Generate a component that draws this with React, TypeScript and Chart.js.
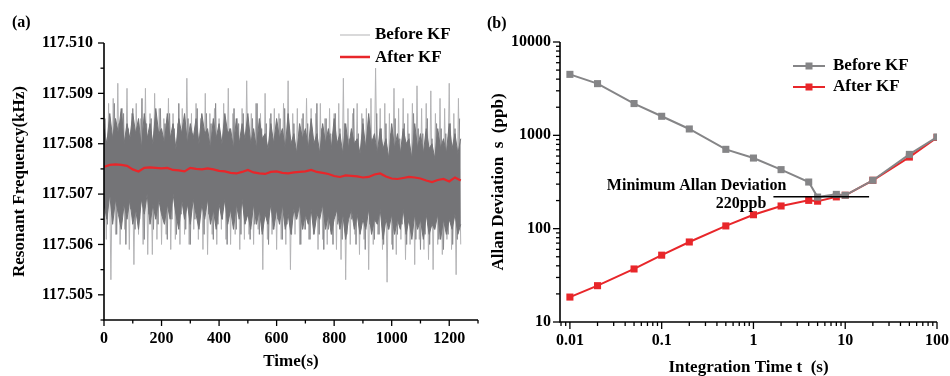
import React, { useEffect, useRef } from "react";
import { Chart, registerables } from "chart.js";

Chart.register(...registerables);

const FONT = "'Liberation Serif', 'Times New Roman', Times, serif";

// ---------- Panel (a): resonant frequency vs time ----------
const BASE_KHZ = 117.5; // values below are offsets in Hz above 117.5 kHz
const SPIKE_STEP_S = 8;
const HAIR_START_S = 4;
const HAIR_STEP_S = 8;
const CORE_STEP_S = 10;
const KF_STEP_S = 20;

// light-gray raw extremes (Before KF), one sample every 8 s
const beforeSpikesHz = [
  8.4, 6.1, 8.8, 5.3, 8.9, 6.2, 9.2, 6.0, 8.7, 6.3, 9.1, 5.9, 8.6, 5.6, 8.8, 6.2, 8.5, 6.0, 9.1, 5.8,
  8.6, 5.8, 9.0, 6.1, 8.7, 6.0, 8.5, 6.2, 8.9, 5.9, 8.6, 6.1, 8.4, 6.0, 8.7, 6.2, 9.3, 6.0, 8.6, 6.3,
  8.8, 6.1, 8.5, 5.9, 9.0, 5.8, 8.6, 6.2, 8.7, 6.0, 8.5, 6.3, 8.8, 6.1, 9.1, 6.0, 8.6, 6.2, 8.5, 5.9,
  8.7, 6.1, 9.25, 6.2, 8.6, 6.0, 8.8, 6.3, 8.6, 5.5, 9.0, 6.1, 8.5, 6.2, 8.7, 5.9, 8.6, 6.1, 8.8, 6.0,
  9.25, 5.5, 8.6, 6.2, 8.7, 6.0, 8.5, 6.3, 8.9, 6.1, 8.7, 6.2, 8.6, 5.9, 8.8, 6.1, 8.5, 6.0, 8.7, 6.2,
  8.6, 5.9, 8.8, 5.7, 9.3, 5.3, 8.7, 6.0, 8.6, 6.2, 8.8, 5.8, 8.6, 6.1, 8.7, 5.5, 8.9, 6.0, 9.5, 6.2,
  8.7, 5.9, 8.8, 5.25, 8.6, 6.0, 9.1, 5.8, 8.7, 6.1, 8.9, 5.7, 8.6, 6.0, 8.8, 5.6, 9.15, 6.1, 8.7, 5.9,
  8.8, 5.7, 9.05, 5.5, 8.6, 6.0, 8.9, 5.8, 8.7, 6.1, 9.2, 5.9, 8.6, 5.4, 8.9, 6.0,
];

// mid-gray hair lines around the dense band (Before KF), every 8 s starting at 4 s
const beforeHairHz = [
  8.5, 6.4, 8.3, 6.6, 8.8, 6.2, 8.4, 6.5, 8.6, 6.0,
  8.3, 6.7, 8.7, 6.3, 8.2, 6.5, 8.9, 6.1, 8.4, 6.6,
  8.5, 6.3, 8.2, 6.4, 8.7, 6.6, 8.4, 6.1, 8.6, 6.5,
  8.3, 6.2, 8.8, 6.6, 8.4, 6.3, 8.5, 6.0, 8.2, 6.5,
  8.7, 6.4, 8.3, 6.2, 8.6, 6.6, 8.4, 6.1, 8.8, 6.4,
  8.2, 6.5, 8.5, 6.0, 8.3, 6.6, 8.7, 6.3, 8.4, 6.2,
  8.6, 6.5, 8.2, 6.1, 8.5, 6.4, 8.8, 6.2, 8.3, 6.6,
  8.4, 6.0, 8.6, 6.3, 8.2, 6.5, 8.5, 6.1, 8.7, 6.4,
  8.3, 6.2, 8.4, 6.5, 8.1, 6.0, 8.6, 6.3, 8.4, 6.1,
  8.2, 6.4, 8.8, 6.2, 8.3, 5.9, 8.5, 6.3, 8.2, 6.0,
  8.6, 6.4, 8.3, 6.1, 8.4, 6.2, 8.1, 6.5, 8.7, 6.0,
  8.2, 6.3, 8.5, 5.9, 8.3, 6.4, 8.1, 6.1, 8.6, 6.2,
  8.3, 6.0, 8.4, 6.3, 8.2, 5.9, 8.5, 6.2, 8.1, 6.4,
  8.4, 6.0, 8.2, 6.3, 8.6, 6.1, 8.3, 5.9, 8.2, 6.2,
  8.5, 6.0, 8.1, 6.3, 8.4, 6.1, 8.3, 5.9, 8.2, 6.2,
  8.4, 6.0, 8.3, 6.1, 8.5,
];

// dark-gray dense band (Before KF), upper and lower edges every 10 s
const beforeCoreUpperHz = [
  8.3, 8.0, 8.6, 8.1, 8.5, 8.2, 8.7, 8.0, 8.4, 8.1, 8.6,
  8.2, 8.5, 7.9, 8.6, 8.1, 8.4, 8.0, 8.7, 8.2, 8.3,
  8.0, 8.6, 8.1, 8.4, 7.9, 8.5, 8.2, 8.6, 8.0, 8.4,
  8.1, 8.5, 8.0, 8.6, 8.2, 8.3, 7.9, 8.5, 8.1, 8.4,
  8.0, 8.6, 8.2, 8.3, 7.9, 8.5, 8.0, 8.4, 8.1, 8.6,
  8.0, 8.3, 7.9, 8.5, 8.1, 8.2, 7.9, 8.4, 8.0, 8.5,
  8.1, 8.3, 7.9, 8.6, 8.0, 8.2, 7.8, 8.4, 8.1, 8.3,
  7.9, 8.5, 8.0, 8.2, 7.8, 8.4, 8.0, 8.3, 7.9, 8.5,
  8.0, 8.2, 7.8, 8.4, 7.9, 8.3, 8.0, 8.1, 7.8, 8.4,
  7.9, 8.6, 8.0, 8.2, 7.8, 8.3, 7.9, 8.1, 7.7, 8.4,
  7.9, 8.2, 7.8, 8.3, 8.0, 8.1, 7.7, 8.4, 7.9, 8.2,
  7.8, 8.3, 7.9, 8.0, 7.7, 8.3, 7.9, 8.1, 7.8, 8.4,
  7.9, 8.2, 7.8, 8.1,
];
const beforeCoreLowerHz = [
  6.8, 6.5, 7.0, 6.4, 6.9, 6.6, 6.3, 6.8, 6.5, 6.9, 6.4,
  6.7, 6.3, 6.9, 6.6, 7.0, 6.4, 6.8, 6.5, 6.9, 6.6,
  6.4, 6.8, 6.5, 7.0, 6.6, 6.3, 6.9, 6.5, 6.8, 6.4,
  6.9, 6.6, 6.3, 6.8, 6.5, 6.9, 6.4, 6.7, 6.3, 6.8,
  6.5, 6.9, 6.4, 6.7, 6.3, 6.8, 6.5, 6.9, 6.4, 6.6,
  6.3, 6.8, 6.4, 6.7, 6.2, 6.6, 6.4, 6.8, 6.3, 6.7,
  6.4, 6.8, 6.3, 6.6, 6.2, 6.7, 6.5, 6.8, 6.3, 6.6,
  6.4, 6.7, 6.2, 6.6, 6.5, 6.8, 6.3, 6.6, 6.2, 6.5,
  6.7, 6.3, 6.6, 6.1, 6.5, 6.7, 6.3, 6.6, 6.2, 6.5,
  6.3, 6.7, 6.2, 6.5, 6.4, 6.7, 6.1, 6.5, 6.3, 6.6,
  6.2, 6.5, 6.3, 6.7, 6.2, 6.5, 6.1, 6.6, 6.3, 6.5,
  6.1, 6.6, 6.2, 6.4, 6.3, 6.6, 6.1, 6.5, 6.2, 6.5,
  6.3, 6.6, 6.2, 6.4,
];

// After KF, every 20 s
const afterKfHz = [
  7.54, 7.58, 7.59, 7.58, 7.56, 7.49, 7.45, 7.52, 7.53, 7.52,
  7.51, 7.52, 7.48, 7.47, 7.45, 7.52, 7.50, 7.49, 7.51, 7.49,
  7.46, 7.45, 7.42, 7.41, 7.44, 7.48, 7.43, 7.41, 7.40, 7.44,
  7.45, 7.42, 7.41, 7.43, 7.44, 7.45, 7.48, 7.44, 7.42, 7.40,
  7.36, 7.34, 7.37, 7.36, 7.35, 7.33, 7.34, 7.39, 7.41, 7.35,
  7.31, 7.30, 7.32, 7.34, 7.33, 7.31, 7.27, 7.24, 7.28, 7.30,
  7.25, 7.33, 7.27,
];

const timeTicks = [0, 200, 400, 600, 800, 1000, 1200];
const freqTicks = [117.505, 117.506, 117.507, 117.508, 117.509, 117.51];

// ---------- Panel (b): Allan deviation ----------
const tau = [0.01, 0.02, 0.05, 0.1, 0.2, 0.5, 1, 2, 4, 5, 8, 10, 20, 50, 100];
const allanBefore = [4500, 3580, 2190, 1600, 1170, 708, 571, 429, 316, 218, 233, 228, 330, 625, 959];
const allanAfter = [18.5, 24.5, 37, 52, 72, 107, 141, 175, 201, 197, 219, 228, 330, 585, 950];
const tauTicks = [0.01, 0.1, 1, 10, 100];
const allanTicks = [10, 100, 1000, 10000];
const minDevTau = [1.65, 18.2];
const minDevValue = 220;

const GRAY_LIGHT = "#b3b3b5";
const GRAY_HAIR = "#8a8a8d";
const GRAY_DARK = "#747477";
const RED = "#e8262a";
const GRAY_B = "#858587";

function line(ctx: CanvasRenderingContext2D, x1: number, y1: number, x2: number, y2: number) {
  ctx.beginPath();
  ctx.moveTo(x1, y1);
  ctx.lineTo(x2, y2);
  ctx.stroke();
}

function drawAxesFrame(ctx: CanvasRenderingContext2D, ca: any) {
  ctx.strokeStyle = "#000";
  ctx.lineWidth = 1.6;
  ctx.beginPath();
  ctx.moveTo(ca.left, ca.top);
  ctx.lineTo(ca.left, ca.bottom);
  ctx.lineTo(ca.right, ca.bottom);
  ctx.stroke();
}

const leftDecor = {
  id: "leftDecor",
  afterDraw(chart: any) {
    const ctx: CanvasRenderingContext2D = chart.ctx;
    const ca = chart.chartArea;
    const xs = chart.scales.x;
    const ys = chart.scales.y;
    ctx.save();
    drawAxesFrame(ctx, ca);
    ctx.lineWidth = 1.3;
    for (let v = 0; v <= 1300; v += 100) {
      const px = xs.getPixelForValue(v);
      line(ctx, px, ca.bottom, px, ca.bottom + (v % 200 === 0 ? 6 : 3.5));
    }
    for (let k = 0; k <= 11; k++) {
      const v = 117.5045 + k * 0.0005;
      const py = ys.getPixelForValue(v);
      line(ctx, ca.left, py, ca.left - (k % 2 === 1 ? 6 : 3.5), py);
    }
    ctx.fillStyle = "#000";
    ctx.font = `bold 17px ${FONT}`;
    ctx.textAlign = "center";
    ctx.textBaseline = "middle";
    ctx.fillText("Time(s)", (ca.left + ca.right) / 2, 362);
    ctx.save();
    ctx.translate(20, (ca.top + ca.bottom) / 2);
    ctx.rotate(-Math.PI / 2);
    ctx.fillText("Resonant Frequency(kHz)", 0, 0);
    ctx.restore();
    ctx.font = `bold 16px ${FONT}`;
    ctx.textAlign = "left";
    ctx.fillText("(a)", 12, 23);
    // legend
    ctx.font = `bold 17px ${FONT}`;
    ctx.strokeStyle = GRAY_LIGHT;
    ctx.lineWidth = 1;
    line(ctx, 340, 35, 370, 35);
    ctx.fillText("Before KF", 375, 35);
    ctx.strokeStyle = RED;
    ctx.lineWidth = 2.5;
    line(ctx, 340, 57, 370, 57);
    ctx.fillText("After KF", 375, 57.5);
    ctx.restore();
  },
};

const rightDecor = {
  id: "rightDecor",
  afterDraw(chart: any) {
    const ctx: CanvasRenderingContext2D = chart.ctx;
    const ca = chart.chartArea;
    const xs = chart.scales.x;
    const ys = chart.scales.y;
    ctx.save();
    drawAxesFrame(ctx, ca);
    ctx.lineWidth = 1.3;
    for (let d = -3; d <= 2; d++) {
      for (let m = 1; m <= 9; m++) {
        const v = m * Math.pow(10, d);
        if (v < xs.min - 1e-9 || v > xs.max * 1.0001) continue;
        const px = xs.getPixelForValue(v);
        line(ctx, px, ca.bottom, px, ca.bottom + (m === 1 ? 7 : 4));
      }
    }
    for (let d = 1; d <= 4; d++) {
      for (let m = 1; m <= 9; m++) {
        const v = m * Math.pow(10, d);
        if (v > ys.max * 1.0001) continue;
        const py = ys.getPixelForValue(v);
        line(ctx, ca.left, py, ca.left - (m === 1 ? 7 : 4), py);
      }
    }
    // minimum deviation annotation
    const lx1 = xs.getPixelForValue(minDevTau[0]);
    const lx2 = xs.getPixelForValue(minDevTau[1]);
    const ly = ys.getPixelForValue(minDevValue);
    ctx.strokeStyle = "#000";
    ctx.lineWidth = 1.5;
    line(ctx, lx1, ly, lx2, ly);
    ctx.fillStyle = "#000";
    ctx.font = `bold 16px ${FONT}`;
    ctx.textAlign = "right";
    ctx.textBaseline = "alphabetic";
    ctx.fillText("Minimum Allan Deviation", lx1 + 13, ly - 7);
    ctx.fillText("220ppb", lx1 - 7, ly + 11);
    // titles
    ctx.font = `bold 17px ${FONT}`;
    ctx.textAlign = "center";
    ctx.textBaseline = "middle";
    ctx.fillText("Integration Time t  (s)", (ca.left + ca.right) / 2, 368);
    ctx.save();
    ctx.translate(19, (ca.top + ca.bottom) / 2);
    ctx.rotate(-Math.PI / 2);
    ctx.fillText("Allan Deviation  s  (ppb)", 0, 0);
    ctx.restore();
    ctx.font = `bold 16px ${FONT}`;
    ctx.textAlign = "left";
    ctx.fillText("(b)", 7, 24);
    // legend
    ctx.font = `bold 17px ${FONT}`;
    const items = [
      { label: "Before KF", color: GRAY_B, y: 66 },
      { label: "After KF", color: RED, y: 87 },
    ];
    for (const it of items) {
      ctx.strokeStyle = it.color;
      ctx.lineWidth = 2;
      line(ctx, 313, it.y, 345, it.y);
      ctx.fillStyle = it.color;
      ctx.fillRect(329 - 3.5, it.y - 3.5, 7, 7);
      ctx.fillStyle = "#000";
      ctx.fillText(it.label, 353, it.y);
    }
    ctx.restore();
  },
};

const tickFont = { family: FONT, size: 16, weight: "bold" as const };

const noEdgePadding = (s: any) => {
  s.paddingLeft = 0;
  s.paddingRight = 0;
  s.paddingTop = 0;
  s.paddingBottom = 0;
};

export default function App() {
  const leftRef = useRef<HTMLCanvasElement>(null);
  const rightRef = useRef<HTMLCanvasElement>(null);

  useEffect(() => {
    const toKhz = (hz: number) => BASE_KHZ + hz / 1000;
    const left = new Chart(leftRef.current!, {
      type: "line",
      data: {
        datasets: [
          {
            label: "After KF",
            data: afterKfHz.map((v, i) => ({ x: i * KF_STEP_S, y: toKhz(v) })),
            borderColor: RED,
            borderWidth: 2.2,
            pointRadius: 0,
            fill: false,
          },
          {
            label: "core upper",
            data: beforeCoreUpperHz.map((v, i) => ({ x: i * CORE_STEP_S, y: toKhz(v) })),
            borderColor: GRAY_DARK,
            borderWidth: 1,
            pointRadius: 0,
            fill: false,
          },
          {
            label: "core lower",
            data: beforeCoreLowerHz.map((v, i) => ({ x: i * CORE_STEP_S, y: toKhz(v) })),
            borderColor: GRAY_DARK,
            backgroundColor: GRAY_DARK,
            borderWidth: 1,
            pointRadius: 0,
            fill: "-1",
          },
          {
            label: "hair",
            data: beforeHairHz.map((v, i) => ({ x: HAIR_START_S + i * HAIR_STEP_S, y: toKhz(v) })),
            borderColor: GRAY_HAIR,
            borderWidth: 1,
            pointRadius: 0,
            fill: false,
          },
          {
            label: "Before KF",
            data: beforeSpikesHz.map((v, i) => ({ x: i * SPIKE_STEP_S, y: toKhz(v) })),
            borderColor: GRAY_LIGHT,
            borderWidth: 1,
            pointRadius: 0,
            fill: false,
          },
        ],
      },
      options: {
        animation: false,
        responsive: false,
        devicePixelRatio: 1,
        layout: { padding: { left: 0, top: 43, right: 2, bottom: 0 } },
        plugins: { legend: { display: false }, tooltip: { enabled: false } },
        scales: {
          x: {
            type: "linear",
            min: 0,
            max: 1300,
            grid: { display: false, drawTicks: false },
            border: { display: false },
            afterBuildTicks: (s: any) => {
              s.ticks = timeTicks.map((v) => ({ value: v }));
            },
            afterFit: (s: any) => {
              s.height = 56;
              noEdgePadding(s);
            },
            ticks: {
              font: tickFont,
              color: "#000",
              padding: 9,
              maxRotation: 0,
              autoSkip: false,
              callback: (v: any) => String(v),
            },
          },
          y: {
            type: "linear",
            min: 117.5045,
            max: 117.51,
            grid: { display: false, drawTicks: false },
            border: { display: false },
            afterBuildTicks: (s: any) => {
              s.ticks = freqTicks.map((v) => ({ value: v }));
            },
            afterFit: (s: any) => {
              s.width = 104;
              noEdgePadding(s);
            },
            ticks: {
              font: tickFont,
              color: "#000",
              padding: 11,
              autoSkip: false,
              callback: (v: any) => Number(v).toFixed(3),
            },
          },
        },
      },
      plugins: [leftDecor],
    });

    const right = new Chart(rightRef.current!, {
      type: "line",
      data: {
        datasets: [
          {
            label: "Before KF",
            data: tau.map((t, i) => ({ x: t, y: allanBefore[i] })),
            borderColor: GRAY_B,
            backgroundColor: GRAY_B,
            borderWidth: 2,
            pointStyle: "rect",
            pointRadius: 5,
            pointBorderWidth: 0,
          },
          {
            label: "After KF",
            data: tau.map((t, i) => ({ x: t, y: allanAfter[i] })),
            borderColor: RED,
            backgroundColor: RED,
            borderWidth: 2,
            pointStyle: "rect",
            pointRadius: 5,
            pointBorderWidth: 0,
          },
        ],
      },
      options: {
        animation: false,
        responsive: false,
        devicePixelRatio: 1,
        layout: { padding: { left: 0, top: 42, right: 13, bottom: 0 } },
        plugins: { legend: { display: false }, tooltip: { enabled: false } },
        scales: {
          x: {
            type: "logarithmic",
            min: 0.0078,
            max: 100,
            grid: { display: false, drawTicks: false },
            border: { display: false },
            afterBuildTicks: (s: any) => {
              s.ticks = tauTicks.map((v) => ({ value: v }));
            },
            afterFit: (s: any) => {
              s.height = 54;
              noEdgePadding(s);
            },
            ticks: {
              font: tickFont,
              color: "#000",
              padding: 9,
              maxRotation: 0,
              autoSkip: false,
              callback: (v: any) => String(v),
            },
          },
          y: {
            type: "logarithmic",
            min: 10,
            max: 10000,
            grid: { display: false, drawTicks: false },
            border: { display: false },
            afterBuildTicks: (s: any) => {
              s.ticks = allanTicks.map((v) => ({ value: v }));
            },
            afterFit: (s: any) => {
              s.width = 80;
              noEdgePadding(s);
            },
            ticks: {
              font: tickFont,
              color: "#000",
              padding: 9,
              autoSkip: false,
              callback: (v: any) => String(v),
            },
          },
        },
      },
      plugins: [rightDecor],
    });

    return () => {
      left.destroy();
      right.destroy();
    };
  }, []);

  return (
    <div style={{ position: "absolute", left: 0, top: 0, width: 950, height: 376, background: "#fff" }}>
      <canvas ref={leftRef} width={480} height={376} style={{ position: "absolute", left: 0, top: 0 }} />
      <canvas ref={rightRef} width={470} height={376} style={{ position: "absolute", left: 480, top: 0 }} />
    </div>
  );
}
